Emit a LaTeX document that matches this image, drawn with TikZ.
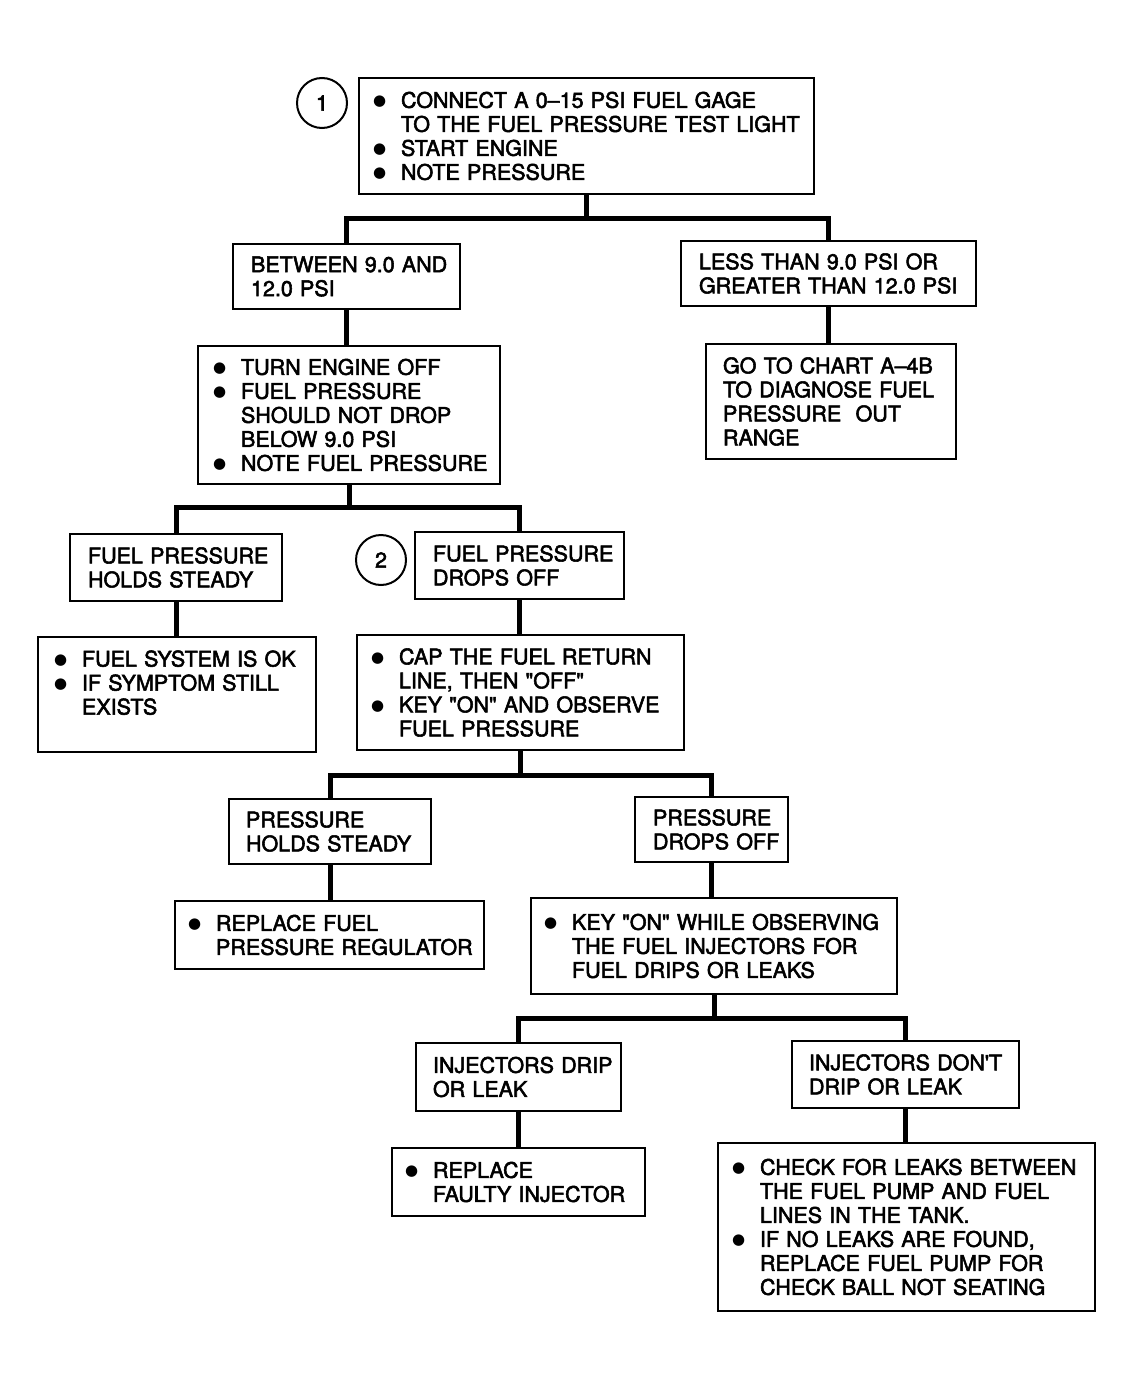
\documentclass[tikz,border=0pt]{standalone}
\usepackage{fontspec}
\setmainfont{TeX Gyre Heros}
\newfontfamily\medfont{TeX Gyre Heros}[FakeBold=2.5,Ligatures=TeX]
\newfontfamily\djv{DejaVu Sans}
\newcommand\bulletsym{\raisebox{2.2pt}{\djv\fontsize{15}{24}\selectfont ●}}
\newcommand\bitem[1]{\makebox[28pt][l]{\bulletsym}\mbox{#1}}
\newcommand\cont[1]{\hspace*{28pt}\mbox{#1}}
\newcommand\qq{\textquotedbl}
\tikzset{
  box/.style={draw, line width=2pt, anchor=north west, inner ysep=0pt, align=left,
    font=\medfont\fontsize{21.5}{24}\selectfont},
  conn/.style={line width=5pt},
  num/.style={circle, draw, line width=2pt, minimum size=50pt, inner sep=0pt,
    font=\medfont\fontsize{21.5}{24}\selectfont},
}
\begin{document}
\begin{tikzpicture}[x=1pt,y=-1pt,line join=miter]
\useasboundingbox (0,0) rectangle (1133,1388);

\node[box, minimum width=455pt, minimum height=116pt, inner xsep=14pt, text width=427pt] (b1) at (358,77)
 {\bitem{CONNECT A 0\textendash 15 PSI FUEL GAGE}\\ \cont{TO THE FUEL PRESSURE TEST LIGHT}\\ \bitem{START ENGINE}\\ \bitem{NOTE PRESSURE}};
\node[num] (c1) at (322,103) {1};

\node[box, minimum width=227pt, minimum height=65pt, inner xsep=18pt, text width=191pt] (b2) at (232,243)
 {\mbox{BETWEEN 9.0 AND}\\ \mbox{12.0 PSI}};
\node[box, minimum width=295pt, minimum height=65pt, inner xsep=18pt, text width=259pt] (b3) at (680,240)
 {\mbox{LESS THAN 9.0 PSI OR}\\ \mbox{GREATER THAN 12.0 PSI}};
\node[box, minimum width=250pt, minimum height=115pt, inner xsep=17pt, text width=216pt] (b4) at (705,343)
 {\mbox{GO TO CHART A\textendash 4B}\\ \mbox{TO DIAGNOSE FUEL}\\ \mbox{PRESSURE\ \ OUT}\\ \mbox{RANGE}};
\node[box, minimum width=302pt, minimum height=138pt, inner xsep=15pt, text width=272pt] (b5) at (197,345)
 {\bitem{TURN ENGINE OFF}\\ \bitem{FUEL PRESSURE}\\ \cont{SHOULD NOT DROP}\\ \cont{BELOW 9.0 PSI}\\ \bitem{NOTE FUEL PRESSURE}};

\node[box, minimum width=212pt, minimum height=67pt, inner xsep=18pt, text width=176pt] (b6) at (69,533)
 {\mbox{FUEL PRESSURE}\\ \mbox{HOLDS STEADY}};
\node[box, minimum width=209pt, minimum height=67pt, inner xsep=18pt, text width=173pt] (b7) at (414,531)
 {\mbox{FUEL PRESSURE}\\ \mbox{DROPS OFF}};
\node[num] (c2) at (381,560) {2};
\node[box, minimum width=278pt, minimum height=115pt, inner xsep=16pt, text width=246pt] (b8) at (37,636)
 {\bitem{FUEL SYSTEM IS OK}\\ \bitem{IF SYMPTOM STILL}\\ \cont{EXISTS}\\ \mbox{}};
\node[box, minimum width=327pt, minimum height=115pt, inner xsep=14pt, text width=299pt] (b9) at (356,634)
 {\bitem{CAP THE FUEL RETURN}\\ \cont{LINE, THEN \qq OFF\qq}\\ \bitem{KEY \qq ON\qq\ AND OBSERVE}\\ \cont{FUEL PRESSURE}};

\node[box, minimum width=202pt, minimum height=65pt, inner xsep=17pt, text width=168pt] (b10) at (228,798)
 {\mbox{PRESSURE}\\ \mbox{HOLDS STEADY}};
\node[box, minimum width=153pt, minimum height=65pt, inner xsep=18pt, text width=117pt] (b11) at (634,796)
 {\mbox{PRESSURE}\\ \mbox{DROPS OFF}};
\node[box, minimum width=309pt, minimum height=68pt, inner xsep=13pt, text width=283pt] (b12) at (174,900)
 {\bitem{REPLACE FUEL}\\ \cont{PRESSURE REGULATOR}};
\node[box, minimum width=366pt, minimum height=96pt, inner xsep=13pt, text width=340pt] (b13) at (530,897)
 {\bitem{KEY \qq ON\qq\ WHILE OBSERVING}\\ \cont{THE FUEL INJECTORS FOR}\\ \cont{FUEL DRIPS OR LEAKS}};

\node[box, minimum width=205pt, minimum height=68pt, inner xsep=17pt, text width=171pt] (b14) at (415,1042)
 {\mbox{INJECTORS DRIP}\\ \mbox{OR LEAK}};
\node[box, minimum width=227pt, minimum height=67pt, inner xsep=17pt, text width=193pt] (b15) at (791,1040)
 {\mbox{INJECTORS DON\textquotesingle T}\\ \mbox{DRIP OR LEAK}};
\node[box, minimum width=253pt, minimum height=68pt, inner xsep=13pt, text width=227pt] (b16) at (391,1147)
 {\bitem{REPLACE}\\ \cont{FAULTY INJECTOR}};
\node[box, minimum width=377pt, minimum height=168pt, inner xsep=14pt, text width=349pt] (b17) at (717,1142)
 {\bitem{CHECK FOR LEAKS BETWEEN}\\ \cont{THE FUEL PUMP AND FUEL}\\ \cont{LINES IN THE TANK.}\\ \bitem{IF NO LEAKS ARE FOUND,}\\ \cont{REPLACE FUEL PUMP FOR}\\ \cont{CHECK BALL NOT SEATING}};

% connectors
\coordinate (j1) at (b1.south |- 0,219);
\draw[conn] (b1.south) -- (j1);
\draw[conn] (b2.north) |- (j1) -| (b3.north);
\draw[conn] (b2.south) -- (b2.south |- b5.north);
\draw[conn] (b3.south) -- (b3.south |- b4.north);

\coordinate (j2) at (b5.south |- 0,507);
\draw[conn] (b5.south) -- (j2);
\draw[conn] (b6.north) |- (j2) -| (b7.north);
\draw[conn] (b6.south) -- (b6.south |- b8.north);
\draw[conn] (b7.south) -- (b7.south |- b9.north);

\coordinate (j3) at (b9.south |- 0,775);
\draw[conn] (b9.south) -- (j3);
\draw[conn] (b10.north) |- (j3) -| (b11.north);
\draw[conn] (b10.south) -- (b10.south |- b12.north);
\draw[conn] (b11.south) -- (b11.south |- b13.north);

\coordinate (j4) at (b13.south |- 0,1018);
\draw[conn] (b13.south) -- (j4);
\draw[conn] (b14.north) |- (j4) -| (b15.north);
\draw[conn] (b14.south) -- (b14.south |- b16.north);
\draw[conn] (b15.south) -- (b15.south |- b17.north);
\end{tikzpicture}
\end{document}
